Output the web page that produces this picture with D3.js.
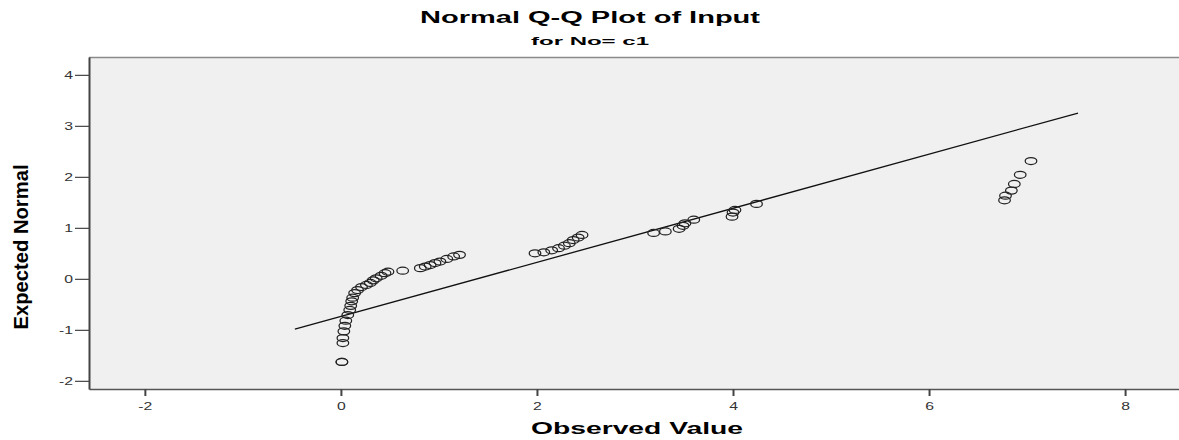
<!DOCTYPE html>
<html>
<head>
<meta charset="utf-8">
<script src="https://cdn.jsdelivr.net/npm/d3@7"></script>
<style>
  body { margin: 0; background: #fff; }
  svg { display: block; }
  text { font-family: Arial, "Liberation Sans", sans-serif; }
</style>
</head>
<body>
<svg id="chart" width="1179" height="440"></svg>
<script>
const observed = [0.01, 0.01, 0.02, 0.02, 0.03, 0.04, 0.05, 0.07, 0.09, 0.10, 0.11, 0.12, 0.14, 0.17, 0.21, 0.26, 0.30, 0.33, 0.36, 0.41, 0.45, 0.48, 0.63,
  0.81, 0.86, 0.91, 0.96, 1.01, 1.08, 1.15, 1.21,
  1.98, 2.07, 2.15, 2.22, 2.28, 2.33, 2.37, 2.42, 2.46,
  3.19, 3.31, 3.45, 3.49, 3.51, 3.60,
  3.99, 4.00, 4.02, 4.24,
  6.77, 6.78, 6.84, 6.87, 6.93, 7.04];
const expected = [-1.63, -1.63, -1.26, -1.16, -1.03, -0.92, -0.82, -0.71, -0.61, -0.53, -0.44, -0.37, -0.28, -0.22, -0.16, -0.12, -0.08, -0.03, 0.01, 0.06, 0.11, 0.14, 0.16,
  0.21, 0.24, 0.27, 0.31, 0.34, 0.39, 0.44, 0.47,
  0.50, 0.52, 0.56, 0.60, 0.65, 0.70, 0.76, 0.81, 0.86,
  0.90, 0.93, 0.98, 1.04, 1.09, 1.16,
  1.22, 1.30, 1.35, 1.47,
  1.54, 1.63, 1.73, 1.86, 2.04, 2.31];

// reference line: y = (x - mean) / sd
const lineMean = 1.39;
const lineSd = 1.886;
const lineX = [-0.47, 7.52];

const xTicks = [-2, 0, 2, 4, 6, 8];
const yTicks = [-2, -1, 0, 1, 2, 3, 4];
const xDomain = [-2.57, 8.55];
const yDomain = [-2.16, 4.35];

const title = 'Normal Q-Q Plot of Input';
const subtitle = 'for No= c1';
const xTitle = 'Observed Value';
const yTitle = 'Expected Normal';

const svg = d3.select('#chart');
const margin = { top: 57, right: 0, bottom: 51, left: 89 };
const W = 1179, H = 440;
const width = W - margin.left - margin.right;
const height = H - margin.top - margin.bottom;

const x = d3.scaleLinear().domain(xDomain).range([0, width]);
const y = d3.scaleLinear().domain(yDomain).range([height, 0]);

const g = svg.append('g').attr('transform', `translate(${margin.left},${margin.top})`);

// plot background
g.append('rect')
  .attr('width', width).attr('height', height)
  .attr('fill', '#f0f0f0');
g.append('line')
  .attr('x1', 0).attr('x2', width).attr('y1', 0.5).attr('y2', 0.5)
  .attr('stroke', '#8a8a8a').attr('stroke-width', 1.5);

const stretch = 1.5; // text in the source is wide

// x axis
const xAxis = g.append('g')
  .attr('transform', `translate(0,${height})`)
  .call(d3.axisBottom(x).tickValues(xTicks).tickSize(7).tickSizeOuter(0).tickFormat(d => d3.format('d')(d).replace('−', '-')));
xAxis.select('.domain').attr('stroke', '#555').attr('stroke-width', 1.5);
xAxis.selectAll('.tick line').attr('stroke', '#444').attr('stroke-width', 2);
xAxis.selectAll('.tick text')
  .attr('y', 14).attr('dy', '0.71em')
  .attr('transform', `scale(${stretch},1)`)
  .attr('font-size', 10.5).attr('fill', '#333');

// y axis
const yAxis = g.append('g')
  .call(d3.axisLeft(y).tickValues(yTicks).tickSize(14).tickSizeOuter(0).tickFormat(d => d3.format('d')(d).replace('−', '-')));
yAxis.select('.domain').attr('stroke', '#444').attr('stroke-width', 2);
yAxis.selectAll('.tick line').attr('stroke', '#444').attr('stroke-width', 1.2);
yAxis.selectAll('.tick text')
  .attr('x', -16 / stretch)
  .attr('transform', `scale(${stretch},1)`)
  .attr('font-size', 10.5).attr('fill', '#333');

// reference line
g.append('line')
  .attr('x1', x(lineX[0])).attr('y1', y((lineX[0] - lineMean) / lineSd))
  .attr('x2', x(lineX[1])).attr('y2', y((lineX[1] - lineMean) / lineSd))
  .attr('stroke', '#111').attr('stroke-width', 1.3);

// points
g.selectAll('ellipse.pt')
  .data(observed.map((v, i) => [v, expected[i]]))
  .enter().append('ellipse')
  .attr('class', 'pt')
  .attr('cx', d => x(d[0])).attr('cy', d => y(d[1]))
  .attr('rx', 5.8).attr('ry', 3.5)
  .attr('fill', 'none').attr('stroke', '#222').attr('stroke-width', 1.25);

// titles
svg.append('text')
  .attr('x', 590).attr('y', 23).attr('text-anchor', 'middle')
  .attr('font-size', 16).attr('font-weight', 'bold')
  .attr('textLength', 340).attr('lengthAdjust', 'spacingAndGlyphs')
  .text(title);
svg.append('text')
  .attr('x', 590).attr('y', 45).attr('text-anchor', 'middle')
  .attr('font-size', 11).attr('font-weight', 'bold')
  .attr('textLength', 118).attr('lengthAdjust', 'spacingAndGlyphs')
  .text(subtitle);
svg.append('text')
  .attr('x', 637).attr('y', 434).attr('text-anchor', 'middle')
  .attr('font-size', 16).attr('font-weight', 'bold')
  .attr('textLength', 212).attr('lengthAdjust', 'spacingAndGlyphs')
  .text(xTitle);
svg.append('text')
  .attr('transform', 'translate(28,247) scale(1.4,1) rotate(-90)')
  .attr('text-anchor', 'middle')
  .attr('font-size', 14).attr('font-weight', 'bold')
  .attr('textLength', 165).attr('lengthAdjust', 'spacingAndGlyphs')
  .text(yTitle);
</script>
</body>
</html>
